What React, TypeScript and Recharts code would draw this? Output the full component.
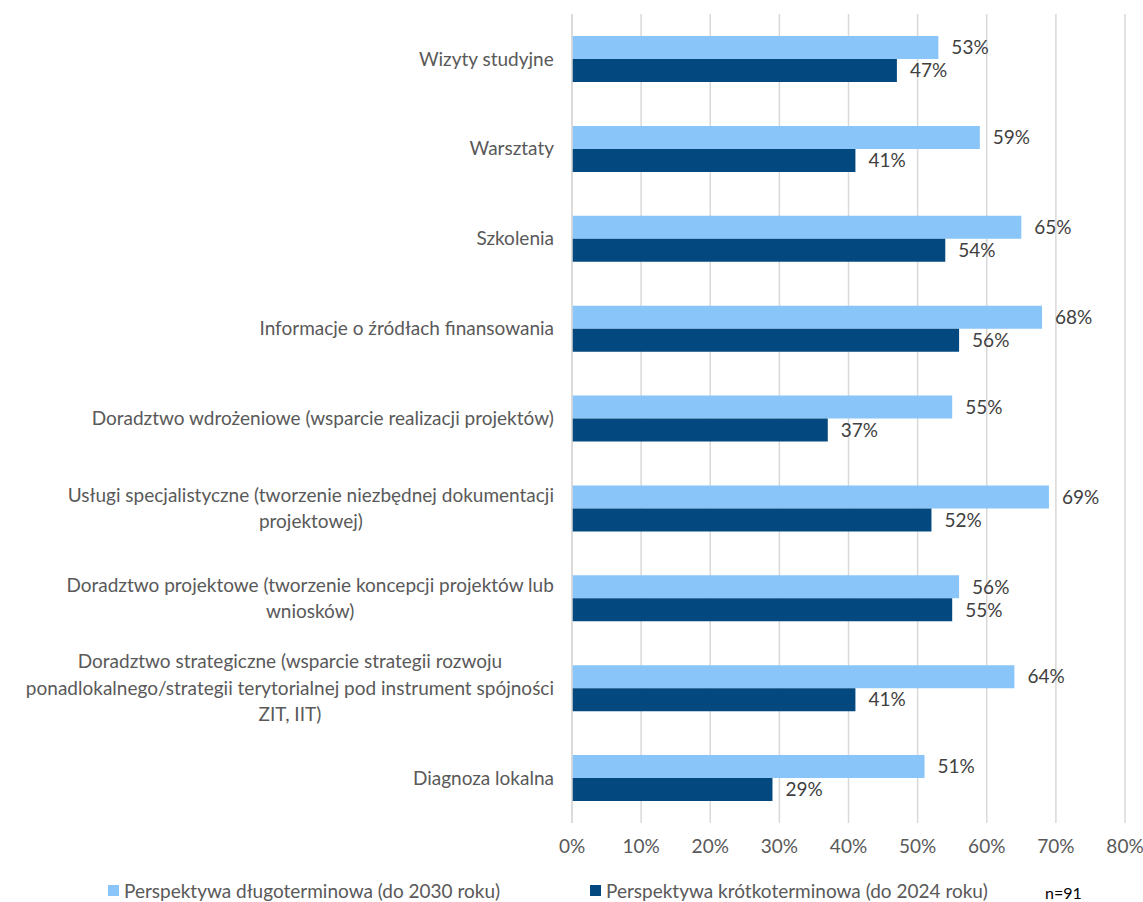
import { Bar, BarChart, CartesianGrid, LabelList, Legend, XAxis, YAxis } from "recharts";

const categories = [
  "Wizyty studyjne",
  "Warsztaty",
  "Szkolenia",
  "Informacje o źródłach finansowania",
  "Doradztwo wdrożeniowe (wsparcie realizacji projektów)",
  "Usługi specjalistyczne (tworzenie niezbędnej dokumentacji\nprojektowej)",
  "Doradztwo projektowe (tworzenie koncepcji projektów lub\nwniosków)",
  "Doradztwo strategiczne (wsparcie strategii rozwoju\nponadlokalnego/strategii terytorialnej pod instrument spójności\nZIT, IIT)",
  "Diagnoza lokalna",
];
const longTerm = [53, 59, 65, 68, 55, 69, 56, 64, 51];
const shortTerm = [47, 41, 54, 56, 37, 52, 55, 41, 29];
const xTicks = [0, 10, 20, 30, 40, 50, 60, 70, 80];

const seriesNames = {
  longTerm: "Perspektywa długoterminowa (do 2030 roku)",
  shortTerm: "Perspektywa krótkoterminowa (do 2024 roku)",
};
const sampleNote = "n=91";

const data = categories.map((name, i) => ({
  name,
  longTerm: longTerm[i],
  shortTerm: shortTerm[i],
}));

const FONT = "Lato, 'Open Sans', sans-serif";
const FONT_SIZE = 19;
const TEXT = "#404040";
const TICK = "#595959";
const LIGHT = "#8ac5f9";
const DARK = "#03487e";

let ctx: CanvasRenderingContext2D | null = null;
function textWidth(s: string) {
  if (!ctx) ctx = document.createElement("canvas").getContext("2d");
  if (!ctx) return s.length * 9;
  ctx.font = `${FONT_SIZE}px Lato`;
  return ctx.measureText(s).width;
}

function CategoryTick(props: any) {
  const { x, y, payload } = props;
  const lines: string[] = String(payload.value).split("\n");
  const right = x - 10;
  const maxW = Math.max(...lines.map(textWidth));
  const cx = right - maxW / 2;
  const lh = 26.5;
  const startY = y - ((lines.length - 1) * lh) / 2;
  return (
    <text textAnchor="middle" fill={TICK} fontSize={FONT_SIZE} fontFamily={FONT}>
      {lines.map((l, i) => (
        <tspan key={i} x={cx} y={startY + i * lh} dy="0.35em">
          {l}
        </tspan>
      ))}
    </text>
  );
}

function LegendContent() {
  return (
    <div
      style={{
        position: "relative",
        height: 24,
        fontFamily: FONT,
        fontSize: FONT_SIZE,
        color: TICK,
        whiteSpace: "nowrap",
      }}
    >
      <div style={{ position: "absolute", left: 108, top: 1, display: "flex", alignItems: "center" }}>
        <span style={{ width: 11, height: 11, background: LIGHT, marginRight: 5 }} />
        {seriesNames.longTerm}
      </div>
      <div style={{ position: "absolute", left: 590, top: 1, display: "flex", alignItems: "center" }}>
        <span style={{ width: 11, height: 11, background: DARK, marginRight: 5 }} />
        {seriesNames.shortTerm}
      </div>
      <div style={{ position: "absolute", left: 1045, top: 5, fontSize: 16, color: "#000" }}>
        {sampleNote}
      </div>
    </div>
  );
}

export default function App() {
  return (
    <div style={{ position: "absolute", left: 0, top: 0, background: "#fff" }}>
      <BarChart
        width={1143}
        height={902}
        data={data}
        layout="vertical"
        margin={{ top: 14, right: 18, bottom: 0, left: 0 }}
        barGap={0}
        barSize={23}
      >
        <CartesianGrid horizontal={false} stroke="#d9d9d9" strokeWidth={1.5} />
        <XAxis
          type="number"
          domain={[0, 80]}
          ticks={xTicks}
          tickFormatter={(v) => `${v}%`}
          axisLine={false}
          tickLine={false}
          tickMargin={11}
          height={55}
          tick={{ fill: TICK, fontSize: FONT_SIZE, fontFamily: FONT }}
        />
        <YAxis
          type="category"
          dataKey="name"
          width={572}
          axisLine={{ stroke: "#d9d9d9", strokeWidth: 1.5 }}
          tickLine={false}
          interval={0}
          tick={<CategoryTick />}
        />
        <Legend verticalAlign="bottom" content={<LegendContent />} />
        <Bar dataKey="longTerm" name={seriesNames.longTerm} fill={LIGHT} isAnimationActive={false}>
          <LabelList
            dataKey="longTerm"
            position="right"
            offset={13}
            formatter={(v: any) => `${v}%`}
            fill={TEXT}
            fontSize={FONT_SIZE}
            fontFamily={FONT}
          />
        </Bar>
        <Bar dataKey="shortTerm" name={seriesNames.shortTerm} fill={DARK} isAnimationActive={false}>
          <LabelList
            dataKey="shortTerm"
            position="right"
            offset={13}
            formatter={(v: any) => `${v}%`}
            fill={TEXT}
            fontSize={FONT_SIZE}
            fontFamily={FONT}
          />
        </Bar>
      </BarChart>
    </div>
  );
}
